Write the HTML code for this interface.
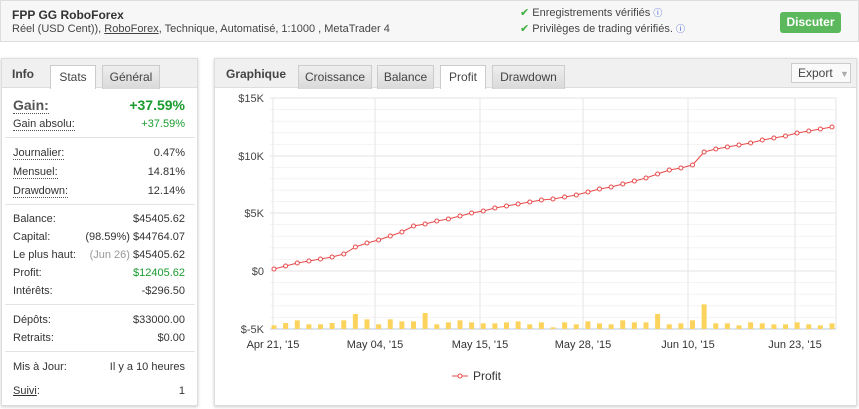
<!DOCTYPE html><html><head><meta charset="utf-8"><style>
*{box-sizing:border-box}body{margin:0;width:859px;height:409px;background:#fff;font-family:"Liberation Sans","DejaVu Sans",sans-serif;font-size:11px;color:#333;position:relative;overflow:hidden}
.a{position:absolute}
.hdr{left:0;top:0;width:859px;height:42px;background:#f7f7f7;border:1px solid #ddd}
.panel{border:1px solid #ddd;background:#fff;box-shadow:0 1px 3px #ccc}
.tabs{left:0;top:0;right:0;height:29px;background:#f0f0f0;border-bottom:1px solid #ddd}
.tab{position:absolute;top:6px;height:24px;background:linear-gradient(#eee,#d9d9d9);border:1px solid #ccc;border-bottom:none;text-align:center;line-height:22px;font-size:12px;color:#444}
.tab.on{background:#fff;height:24px}
.row{position:absolute;left:11px;width:172px;height:14px;font-size:11px}
.row .r{position:absolute;right:0;top:0}
.dot{border-bottom:1px dotted #555}
.sep{position:absolute;left:3px;width:190px;height:1px;background:#e3e3e3}
.g{color:#1a9b2e}
</style></head><body>
<div class="a hdr">
<div class="a" style="left:11px;top:7px;font-weight:bold;font-size:12px;color:#333">FPP GG RoboForex</div>
<div class="a" style="left:11px;top:22px;font-size:11px;color:#444">Réel (USD Cent)), <u>RoboForex</u>, Technique, Automatisé, 1:1000 , MetaTrader 4</div>
<div class="a" style="left:519px;top:5px;font-size:11px;color:#444"><span style="color:#3aae3a">✔</span> Enregistrements vérifiés <span style="color:#3355cc;font-size:9px">ⓘ</span></div>
<div class="a" style="left:519px;top:21px;font-size:11px;color:#444"><span style="color:#3aae3a">✔</span> Privilèges de trading vérifiés. <span style="color:#3355cc;font-size:9px">ⓘ</span></div>
<div class="a" style="left:779px;top:11px;width:61px;height:21px;background:#5cb85c;border-radius:3px;color:#fff;font-weight:bold;font-size:12px;text-align:center;line-height:21px">Discuter</div>
</div>

<div class="a panel" style="left:1px;top:58px;width:197px;height:348px">
<div class="a tabs"></div>
<div class="a" style="left:10px;top:8px;font-weight:bold;font-size:12px;color:#444">Info</div>
<div class="tab on" style="left:48px;width:46px">Stats</div>
<div class="tab" style="left:100px;width:58px">Général</div>
<div class="row" style="top:38px;font-size:14px;height:18px"><b class="dot" style="color:#555">Gain:</b><b class="r g">+37.59%</b></div>
<div class="row" style="top:59px"><span class="dot">Gain absolu:</span><span class="r g">+37.59%</span></div>
<div class="sep" style="top:78px"></div>
<div class="row" style="top:88px"><span class="dot">Journalier:</span><span class="r">0.47%</span></div>
<div class="row" style="top:107px"><span class="dot">Mensuel:</span><span class="r">14.81%</span></div>
<div class="row" style="top:126px"><span class="dot">Drawdown:</span><span class="r">12.14%</span></div>
<div class="sep" style="top:145px"></div>
<div class="row" style="top:154px">Balance:<span class="r">$45405.62</span></div>
<div class="row" style="top:172px">Capital:<span class="r">(98.59%) $44764.07</span></div>
<div class="row" style="top:190px">Le plus haut:<span class="r"><span style="color:#999">(Jun 26)</span> $45405.62</span></div>
<div class="row" style="top:208px">Profit:<span class="r g">$12405.62</span></div>
<div class="row" style="top:226px">Intérêts:<span class="r">-$296.50</span></div>
<div class="sep" style="top:245px"></div>
<div class="row" style="top:255px">Dépôts:<span class="r">$33000.00</span></div>
<div class="row" style="top:273px">Retraits:<span class="r">$0.00</span></div>
<div class="sep" style="top:292px"></div>
<div class="row" style="top:302px">Mis à Jour:<span class="r">Il y a 10 heures</span></div>
<div class="row" style="top:326px"><u>Suivi</u>:<span class="r">1</span></div>
</div>

<div class="a panel" style="left:214px;top:58px;width:643px;height:348px">
<div class="a tabs"></div>
<div class="a" style="left:11px;top:8px;font-weight:bold;font-size:12px;color:#444">Graphique</div>
<div class="tab" style="left:83px;width:74px">Croissance</div>
<div class="tab" style="left:162px;width:57px">Balance</div>
<div class="tab on" style="left:225px;width:46px">Profit</div>
<div class="tab" style="left:277px;width:73px">Drawdown</div>
<div class="a" style="left:576px;top:4px;width:60px;height:20px;background:#fafafa;border:1px solid #ccc;font-size:12px;line-height:18px;padding-left:6px;color:#444">Export <span style="color:#aaa;font-size:9px;margin-left:4px">▼</span></div>
</div>

<svg class="a" style="left:0;top:0" width="859" height="409" id="ch"></svg>
<script>
var s='';
var ys=[98,156,213,271,329],labs=['$15K','$10K','$5K','$0','$-5K'];
for(var i=0;i<4;i++){for(var k=1;k<5;k++){var y=ys[i]+(ys[i+1]-ys[i])*k/5;s+='<line x1="270" x2="836" y1="'+y+'" y2="'+y+'" stroke="#f3f3f3"/>';}}
var tx=[273,375,480,583,688,795],tl=["Apr 21, '15","May 04, '15","May 15, '15","May 28, '15","Jun 10, '15","Jun 23, '15"];
tx.forEach(function(x,i){s+='<line x1="'+x+'" x2="'+x+'" y1="98" y2="329" stroke="#e6e6e6"/>';s+='<text x="'+x+'" y="348" text-anchor="middle" font-size="11" fill="#333">'+tl[i]+'</text>';});
s+='<line x1="836" x2="836" y1="98" y2="329" stroke="#e6e6e6"/>';
ys.forEach(function(y,i){s+='<line x1="270" x2="836" y1="'+y+'" y2="'+y+'" stroke="#e3e3e3"/>';s+='<text x="264" y="'+(y+4)+'" text-anchor="end" font-size="11" fill="#444">'+labs[i]+'</text>';});
s+='<line x1="270" x2="836" y1="329" y2="329" stroke="#b8c8d8"/>';
var bt=[139,132,124,136,136,132,124,105,121,136,121,127,127,102,136,130,124,130,133,133,130,127,136,130,145,130,136,127,133,136,124,130,130,105,136,133,124,76,133,133,139,130,133,136,136,130,136,139,133];
var ly=[269,266,263,261,259,257,254,247,243,240,236,232,226,224,221,219,216,213,211,208,206,204,202,200,199,197,195,192,189,187,184,181,178,174,170,168,165,152,149,147,145,143,140,138,136,133,131,129,127];
var p=[];
for(var i=0;i<49;i++){var x=274+i*11.625,h=(150-bt[i])/3;s+='<rect x="'+(x-2.5)+'" y="'+(329-h)+'" width="5" height="'+h+'" fill="#fcd35c"/>';p.push(x.toFixed(1)+','+ly[i]);}
s+='<polyline points="'+p.join(' ')+'" fill="none" stroke="#e84b4b" stroke-width="1"/>';
p.forEach(function(q){var a=q.split(',');s+='<circle cx="'+a[0]+'" cy="'+a[1]+'" r="2" fill="#fff" stroke="#e84b4b" stroke-width="1"/>';});
s+='<line x1="452" x2="468" y1="376" y2="376" stroke="#e84b4b"/><circle cx="460" cy="376" r="2" fill="#fff" stroke="#e84b4b"/><text x="473" y="380" font-size="12" fill="#333">Profit</text>';
document.getElementById('ch').innerHTML=s;
</script>
</body></html>
